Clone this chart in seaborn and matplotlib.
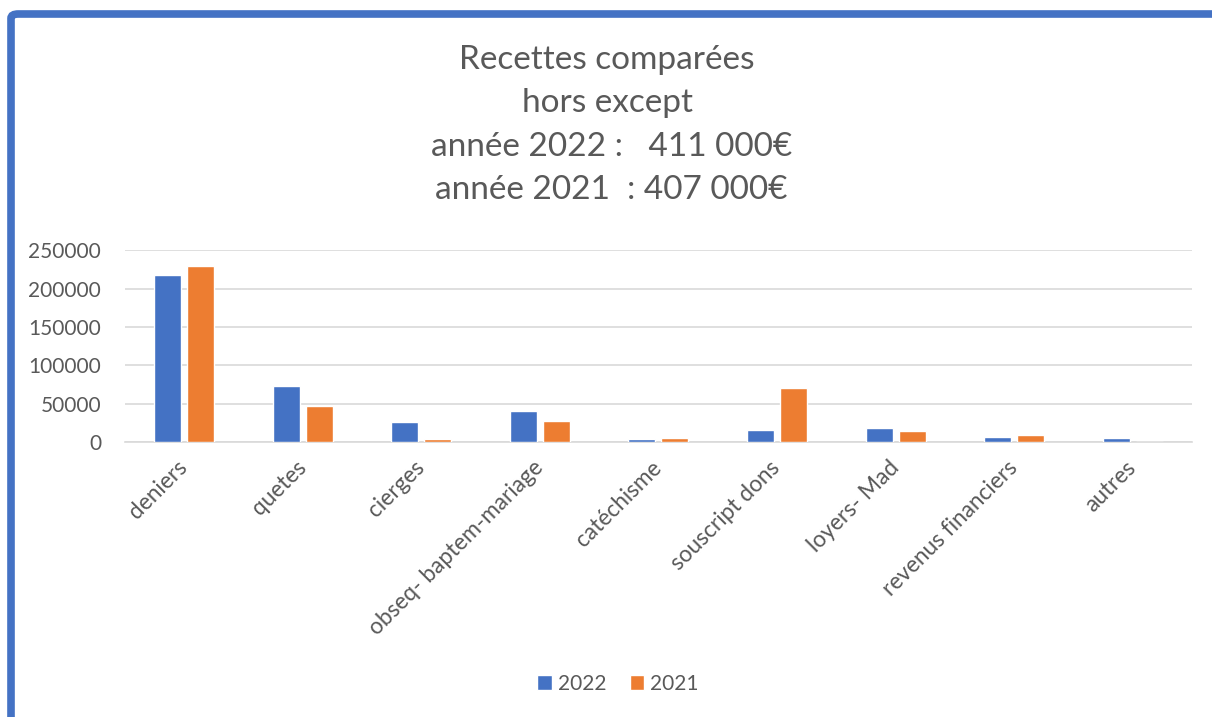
import matplotlib
matplotlib.use("Agg")
import matplotlib.pyplot as plt
from matplotlib.patches import FancyBboxPatch
import pandas as pd
import seaborn as sns

# ─── Data ─────────────────────────────────────────────────────────────────────
categories = ["deniers", "quetes", "cierges", "obseq- baptem-mariage", "catéchisme",
              "souscript dons", "loyers- Mad", "revenus financiers", "autres"]
recettes_2022 = [218000, 73200, 26000, 39800, 4300, 15600, 18200, 6900, 5200]
recettes_2021 = [229000, 47600, 4300, 26800, 5200, 70600, 14300, 9100, 0]
years = ["2022", "2021"]
title_lines = ["Recettes comparées", "hors except",
               "année 2022 :   411 000€", "année 2021  : 407 000€"]

df = pd.DataFrame({
    "categorie": categories * 2,
    "annee": [years[0]] * len(categories) + [years[1]] * len(categories),
    "valeur": recettes_2022 + recettes_2021,
})

# ─── Style ────────────────────────────────────────────────────────────────────
sns.set_style("white")
plt.rcParams["font.family"] = ["Lato", "DejaVu Sans"]
TXT = "#595959"
GRID = "#D9D9D9"

fig = plt.figure(figsize=(12.12, 7.17), dpi=100)
ax = fig.add_axes([0.103, 0.3835, 0.8805, 0.2675])

sns.barplot(data=df, x="categorie", y="valeur", hue="annee", order=categories,
            hue_order=years, palette=["#4472C4", "#ED7D31"], width=0.556, gap=0.18,
            saturation=1, ax=ax, zorder=3)

ax.set_ylim(0, 250000)
ax.set_yticks(range(0, 250001, 50000))
ax.set_yticklabels([str(v) for v in range(0, 250001, 50000)], fontsize=15, color=TXT)
ax.set_xticks(range(len(categories)))
ax.set_xticklabels(categories, rotation=45, ha="right", va="center",
                   rotation_mode="anchor", fontsize=16.3, color=TXT)
ax.tick_params(axis="both", length=0)
ax.tick_params(axis="y", pad=17)
ax.tick_params(axis="x", pad=16)
ax.set_xlabel("")
ax.set_ylabel("")
ax.grid(axis="y", color=GRID, linewidth=1.2, zorder=0)
for s in ["top", "right", "left"]:
    ax.spines[s].set_visible(False)
ax.spines["bottom"].set_color(GRID)
ax.spines["bottom"].set_linewidth(1.2)

leg = ax.legend(loc="center", bbox_to_anchor=(0.51, 0.046), bbox_transform=fig.transFigure,
                ncol=2, frameon=False, fontsize=15, handlelength=0.7, handleheight=0.7,
                handletextpad=0.3, columnspacing=1.1)
for t in leg.get_texts():
    t.set_color(TXT)

# Title
title_y = [60, 103, 147, 190]
title_x = [607, 607, 612, 611]
for line, x, y in zip(title_lines, title_x, title_y):
    fig.text(x / 1212, 1 - y / 717, line, ha="center", va="center", fontsize=24, color=TXT)

# Blue frame (partially cropped at right/bottom)
frame = FancyBboxPatch((11 / 1212, -0.2), 1.3, 1 - 14 / 717 + 0.2,
                       boxstyle="round,pad=0,rounding_size=0.006",
                       transform=fig.transFigure, fill=False, edgecolor="#4472C4",
                       linewidth=5.5, clip_on=False)
fig.patches.append(frame)

fig.savefig("out.png", dpi=100, facecolor="white")
